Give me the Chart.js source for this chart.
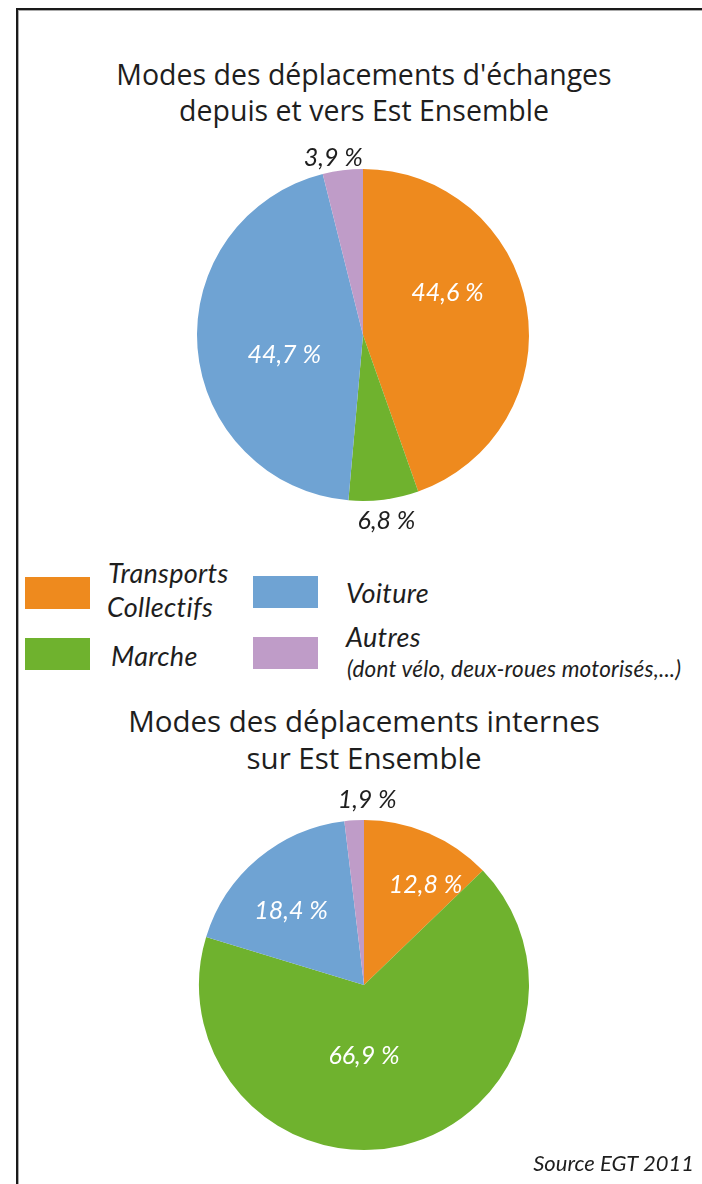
<!DOCTYPE html>
<html lang="fr">
<head>
<meta charset="utf-8">
<script src="https://cdn.jsdelivr.net/npm/chart.js@4/dist/chart.umd.min.js"></script>
<style>
  html, body { margin: 0; padding: 0; background: #fff; }
  body { width: 702px; height: 1184px; position: relative; overflow: hidden; font-family: Lato, "Open Sans", sans-serif; color: #1e1e1e; }
  #frame { position: absolute; left: 16px; top: 8px; width: 700px; height: 1200px; border-top: 2px solid #1a1a1a; border-left: 2px solid #1a1a1a; box-shadow: inset 1px 1px 0 #aaa; }
  .title { position: absolute; left: 14px; width: 700px; text-align: center; font-family: "Open Sans", sans-serif; font-size: 28.5px; line-height: 36px; white-space: nowrap; }
  canvas { position: absolute; }
  .box { position: absolute; width: 65px; height: 32px; }
  .lg { position: absolute; font-style: italic; font-size: 27px; letter-spacing: 0.3px; line-height: 33px; white-space: nowrap; }
  .lg small { font-size: 22.5px; letter-spacing: 0.2px; }
  #source { position: absolute; right: 8px; top: 1149px; font-style: italic; font-size: 22px; }
</style>
</head>
<body>
<div id="frame"></div>

<div class="title" style="top:56px">Modes des déplacements d'échanges<br>depuis et vers Est Ensemble</div>
<canvas id="pieEchanges" width="420" height="420" style="left:153px; top:125px"></canvas>

<div class="box" style="left:25px; top:577px; background:#EE8A1E"></div>
<div class="lg" style="left:108px; top:556px">Transports</div>
<div class="lg" style="left:107px; top:590px">Collectifs</div>
<div class="box" style="left:253px; top:576px; background:#6FA3D3"></div>
<div class="lg" style="left:346px; top:576px">Voiture</div>
<div class="box" style="left:25px; top:638px; background:#6FB22E"></div>
<div class="lg" style="left:111px; top:639px">Marche</div>
<div class="box" style="left:253px; top:637px; background:#BF9CC8"></div>
<div class="lg" style="left:346px; top:620px">Autres</div>
<div class="lg" style="left:347px; top:650px"><small>(dont vélo, deux-roues motorisés,...)</small></div>

<div class="title" style="top:702px; font-size:29.5px; line-height:37px">Modes des déplacements internes<br>sur Est Ensemble</div>
<canvas id="pieInternes" width="420" height="420" style="left:154px; top:775px"></canvas>

<div id="source">Source EGT 2011</div>

<script>
// categories, clockwise from 12 o'clock
const modes = ['Transports Collectifs', 'Marche', 'Voiture', 'Autres'];
const modeColors = ['#EE8A1E', '#6FB22E', '#6FA3D3', '#BF9CC8'];

// parts modales en %
const partsEchanges = [44.6, 6.8, 44.7, 3.9];
const partsInternes = [12.8, 66.9, 18.4, 1.9];

function pct(v) {
    return v.toFixed(1).replace('.', ',') + ' %';
}

// labels on or next to each slice; dist = fraction of radius, shift = degrees
const sliceLabels = {
    id: 'sliceLabels',
    afterDatasetsDraw(chart, args, opts) {
        const ctx = chart.ctx;
        const values = chart.data.datasets[0].data;
        chart.getDatasetMeta(0).data.forEach((arc, i) => {
            const a = (arc.startAngle + arc.endAngle) / 2 + opts.shift[i] * Math.PI / 180;
            const r = arc.outerRadius * opts.dist[i];
            ctx.save();
            ctx.font = 'italic 25px Lato';
            ctx.fillStyle = opts.dist[i] > 1 ? '#1e1e1e' : '#fff';
            ctx.textAlign = 'center';
            ctx.textBaseline = 'middle';
            ctx.fillText(pct(values[i]), arc.x + Math.cos(a) * r, arc.y + Math.sin(a) * r);
            ctx.restore();
        });
    }
};

function makePie(id, values, pad, dist, shift) {
    return new Chart(document.getElementById(id), {
        type: 'pie',
        data: {
            labels: modes,
            datasets: [{
                data: values,
                backgroundColor: modeColors,
                borderWidth: 0
            }]
        },
        options: {
            responsive: false,
            animation: false,
            layout: { padding: pad },
            plugins: {
                legend: { display: false },
                tooltip: { enabled: false },
                sliceLabels: { dist: dist, shift: shift }
            }
        },
        plugins: [sliceLabels]
    });
}

makePie('pieEchanges', partsEchanges, 44, [0.57, 1.13, 0.49, 1.08], [-17, 0, -10, -2.5]);
makePie('pieInternes', partsInternes, 45, [0.71, 0.43, 0.63, 1.12], [8.7, 13.5, -4.6, 4.4]);
</script>
</body>
</html>
